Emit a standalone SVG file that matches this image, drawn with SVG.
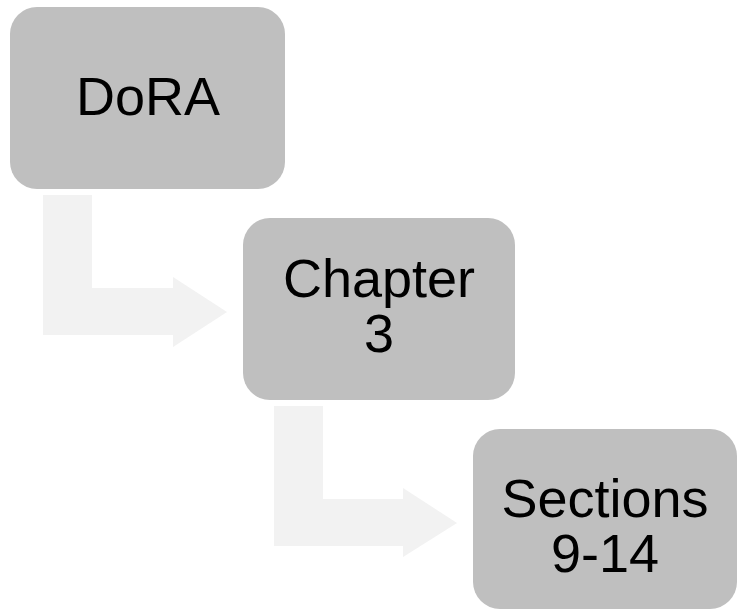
<svg xmlns="http://www.w3.org/2000/svg" width="738" height="610" viewBox="0 0 738 610">
  <style>
    .box { fill: #bfbfbf; }
    .bend { fill: #f2f2f2; }
    .label { font-family: "Liberation Sans", Arial, sans-serif; font-size: 54px; fill: #000; text-anchor: middle; }
  </style>
  <rect width="738" height="610" fill="#ffffff"/>
  <!-- bent arrows linking the levels -->
  <g id="connectors">
    <path class="bend" d="M43,195 H92 V288 H173 V277 L227,312 L173,347 V335 H43 Z"/>
    <path class="bend" d="M274,406 H323 V499 H403 V488 L457,523 L403,557 V546 H274 Z"/>
  </g>
  <g id="node-dora">
    <rect class="box" x="10" y="7" width="275" height="182" rx="27"/>
    <text class="label" x="148" y="115">DoRA</text>
  </g>
  <g id="node-chapter">
    <rect class="box" x="243" y="218" width="272" height="182" rx="27"/>
    <text class="label" x="379" y="297">Chapter</text>
    <text class="label" x="379" y="352">3</text>
  </g>
  <g id="node-sections">
    <rect class="box" x="473" y="429" width="264" height="180" rx="27"/>
    <text class="label" x="605" y="517">Sections</text>
    <text class="label" x="605" y="572">9-14</text>
  </g>
</svg>
